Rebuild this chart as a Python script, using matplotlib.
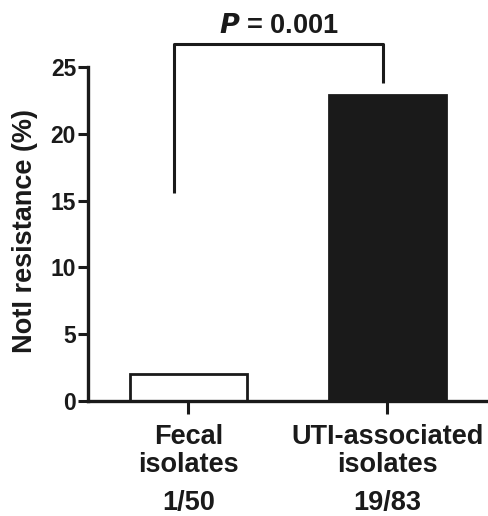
import matplotlib
matplotlib.use("Agg")
import matplotlib.pyplot as plt
from matplotlib.transforms import blended_transform_factory

plt.rcParams["font.family"] = ["Liberation Sans", "DejaVu Sans"]
plt.rcParams["font.weight"] = "bold"

# Data
categories = ["Fecal\nisolates", "UTI-associated\nisolates"]
counts = ["1/50", "19/83"]
resistance = [2.0, 22.9]
bar_colors = ["white", "#1a1a1a"]
y_ticks = [0, 5, 10, 15, 20, 25]
p_text = "$\\bf{\\it{P}}$ = 0.001"

fig = plt.figure(figsize=(4.88, 5.16), dpi=100)
ax = fig.add_axes([0.180, 0.2234, 0.820, 0.6466])

x = list(range(len(categories)))
ax.bar(x, resistance, width=0.59, color=bar_colors, edgecolor="#1a1a1a",
       linewidth=2.0, zorder=2)

ax.set_xlim(-0.505, 1.505)
ax.set_ylim(0, 25)
ax.set_yticks(y_ticks)
ax.set_xticks(x)
ax.set_xticklabels(categories, fontsize=19.5, fontweight="bold",
                   color="#1a1a1a", linespacing=1.08)
ax.tick_params(axis="y", labelsize=16.5, length=7.5, width=2.2, pad=1,
               colors="#1a1a1a")
ax.tick_params(axis="x", length=9, width=2.2, pad=8, colors="#1a1a1a")
for lab in ax.get_yticklabels():
    lab.set_fontweight("bold")

for side in ["top", "right"]:
    ax.spines[side].set_visible(False)
for side in ["left", "bottom"]:
    ax.spines[side].set_linewidth(2.4)
    ax.spines[side].set_color("#1a1a1a")

ax.set_ylabel("NotI resistance (%)", fontsize=19.5, fontweight="bold",
              color="#1a1a1a")
ax.yaxis.set_label_coords(-0.125, 0.51)

# counts below category labels
trans = blended_transform_factory(ax.transData, fig.transFigure)
for xi, c in zip(x, counts):
    ax.text(xi, 0.026, c, transform=trans, ha="center", va="center",
            fontsize=19.5, fontweight="bold", color="#1a1a1a")

# significance bracket
left_x, right_x = -0.07, 0.98
ax.plot([left_x, left_x, right_x, right_x], [15.6, 26.7, 26.7, 23.8],
        color="#1a1a1a", linewidth=2.2, clip_on=False, solid_capstyle="butt")
ax.text((left_x + right_x) / 2, 28.1, p_text, ha="center", va="center",
        fontsize=19.5, fontweight="bold", color="#1a1a1a", clip_on=False)

fig.savefig("out.png", dpi=100, facecolor="white")
